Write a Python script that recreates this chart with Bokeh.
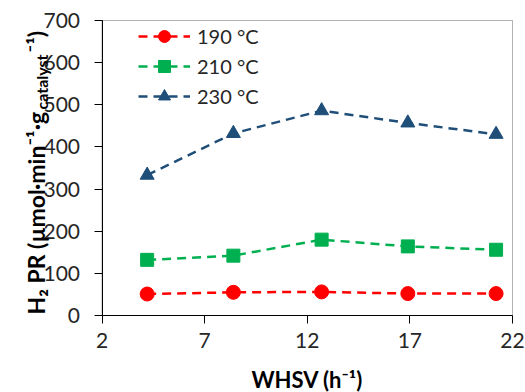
import math

from bokeh.embed import file_html
from bokeh.models import BoxAnnotation, FixedTicker, Label, Legend, Range1d
from bokeh.plotting import figure
from bokeh.resources import INLINE

# Weight hourly space velocity (h^-1) and H2 production rate per temperature
whsv = [4.2, 8.4, 12.7, 16.9, 21.2]
pr_190 = [51, 55, 56, 52, 52]
pr_210 = [132, 142, 180, 164, 156]
pr_230 = [333, 432, 486, 457, 430]

series_labels = ["190 °C", "210 °C", "230 °C"]
x_ticks = [2, 7, 12, 17, 22]
y_ticks = [0, 100, 200, 300, 400, 500, 600, 700]

FONT = "Lato"
TEXT = "#262626"
X_MIN, X_MAX = 2, 22
Y_MIN, Y_MAX = 0, 700

# The frame covers the whole canvas so that axes pinned inside it, their
# tick labels and the rotated y title are never clipped.  The plot box
# (X_MIN..X_MAX, Y_MIN..Y_MAX) sits at these canvas pixel edges:
W, H = 525, 392
BOX_L, BOX_R, BOX_T, BOX_B = 101.5, 512.0, 20.0, 315.0
sx = (BOX_R - BOX_L) / (X_MAX - X_MIN)
sy = (BOX_B - BOX_T) / (Y_MAX - Y_MIN)
x_range = Range1d(X_MIN - BOX_L / sx, X_MAX + (W - BOX_R) / sx)
y_range = Range1d(Y_MIN - (H - BOX_B) / sy, Y_MAX + BOX_T / sy)

p = figure(
    width=W, height=H, x_range=x_range, y_range=y_range,
    output_backend="svg", toolbar_location=None,
    min_border=0,
)
p.background_fill_color = "white"
p.border_fill_color = "white"
p.outline_line_color = None
p.xgrid.visible = False
p.ygrid.visible = False

# plot-area box
p.add_layout(BoxAnnotation(left=X_MIN, right=X_MAX, bottom=Y_MIN, top=Y_MAX,
                           fill_alpha=0, line_color="#000000", line_width=1))

styles = [
    (pr_190, "#FF0000", "circle", 14),
    (pr_210, "#00B050", "square", 13),
    (pr_230, "#1F4E79", "triangle", 14),
]
items = []
for (vals, color, marker, size), lab in zip(styles, series_labels):
    ln = p.line(whsv, vals, line_color=color, line_width=2.5, line_dash="9 6")
    sc = p.scatter(whsv, vals, marker=marker, size=size,
                   fill_color=color, line_color=color)
    items.append((lab, [ln, sc]))

legend = Legend(items=items, location=(138, 281))
legend.border_line_color = None
legend.background_fill_alpha = 0
legend.padding = 0
legend.margin = 0
legend.spacing = 0
legend.glyph_width = 52
legend.glyph_height = 30
legend.label_height = 20
legend.label_standoff = 7
legend.label_text_font = FONT
legend.label_text_font_size = "20px"
legend.label_text_color = TEXT
p.add_layout(legend, "center")

for ax in (p.xaxis[0], p.yaxis[0]):
    ax.axis_line_color = "#000000"
    ax.major_tick_line_color = "#000000"
    ax.major_tick_in = 0
    ax.major_tick_out = 8
    ax.minor_tick_line_color = None
    ax.major_label_text_font = FONT
    ax.major_label_text_font_size = "21px"
    ax.major_label_text_color = TEXT

p.xaxis.ticker = FixedTicker(ticks=x_ticks)
p.xaxis.bounds = (X_MIN, X_MAX)
p.xaxis.fixed_location = Y_MIN
p.xaxis.major_label_standoff = 9

p.yaxis.ticker = FixedTicker(ticks=y_ticks)
p.yaxis.bounds = (Y_MIN, Y_MAX)
p.yaxis.fixed_location = X_MIN
p.yaxis.major_label_standoff = 14

# x-axis title
p.add_layout(Label(x=(X_MIN + X_MAX) / 2, y=13, x_units="data", y_units="screen",
                   text="WHSV (h⁻¹)", text_font=FONT, text_font_size="22px",
                   text_font_style="bold", text_color="#000000",
                   text_align="center", text_baseline="alphabetic"))

# Rotated y-axis title, in pieces so "catalyst" sits as a subscript
title_kw = dict(x_units="screen", y_units="screen", angle=math.pi / 2,
                text_font=FONT, text_font_style="bold",
                text_color="#000000", text_baseline="alphabetic",
                text_align="left")
base = H - BOX_B
p.add_layout(Label(x=35, y=base + 1, text="H₂ PR (µmol·min⁻¹·g",
                   text_font_size="23px", **title_kw))
p.add_layout(Label(x=41, y=base + 206, text="catalyst",
                   text_font_size="16px", **title_kw))
p.add_layout(Label(x=35, y=base + 263, text="⁻¹)",
                   text_font_size="23px", **title_kw))

open("out.html", "w").write(file_html(p, INLINE))
